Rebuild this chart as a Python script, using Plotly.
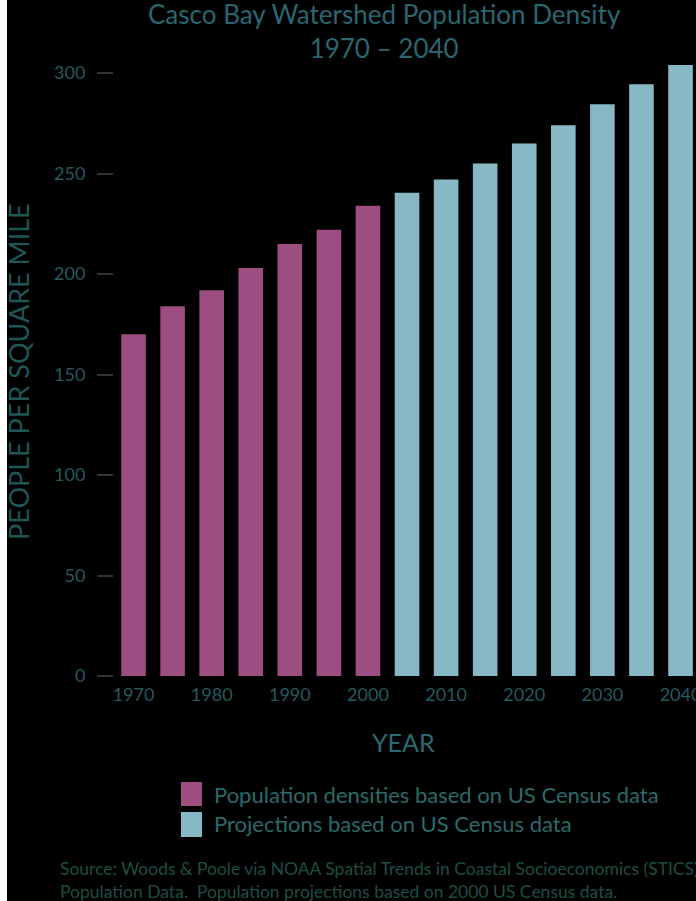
import plotly.graph_objects as go

years_census = [1970, 1975, 1980, 1985, 1990, 1995, 2000]
density_census = [170, 184, 192, 203, 215, 222, 234]
years_proj = [2005, 2010, 2015, 2020, 2025, 2030, 2035, 2040]
density_proj = [240.5, 247, 255, 265, 274, 284.5, 294.5, 304]
x_tick_vals = [1970, 1980, 1990, 2000, 2010, 2020, 2030, 2040]
y_tick_vals = [0, 50, 100, 150, 200, 250, 300]
legend_labels = ["Population densities based on US Census data",
                 "Projections based on US Census data"]

PINK = "#9b4e7f"
BLUE = "#87b8c5"
FONT = "Lato"

fig = go.Figure()
fig.add_trace(go.Bar(x=years_census, y=density_census, width=3.15,
                     marker=dict(color=PINK, line=dict(width=0)),
                     name=legend_labels[0], showlegend=False))
fig.add_trace(go.Bar(x=years_proj, y=density_proj, width=3.15,
                     marker=dict(color=BLUE, line=dict(width=0)),
                     name=legend_labels[1], showlegend=False))

L, T, B = 114, 53, 225
PH = 901 - T - B
PW = 696 - L

fig.update_layout(
    width=696, height=901,
    margin=dict(l=L, r=0, t=T, b=B, autoexpand=False),
    paper_bgcolor="black", plot_bgcolor="black",
    font=dict(family=FONT, color="#24595e"),
    xaxis=dict(range=[1967.5, 2041.98], tickvals=x_tick_vals,
               showgrid=False, zeroline=False, showline=False, ticks="",
               tickfont=dict(size=18, color="#24595e"),
               ticklabelstandoff=6, automargin=False,
               ticklabeloverflow="allow"),
    yaxis=dict(range=[0, 310], tickvals=y_tick_vals,
               showgrid=False, zeroline=False, showline=False,
               ticks="outside", ticklen=16, tickwidth=2, tickcolor="#333333",
               tickfont=dict(size=18, color="#24595e"),
               ticklabelstandoff=8, automargin=False),
    bargap=0.37,
)

TITLE_COLOR = "#2a6670"
annotations = [
    dict(text="Casco Bay Watershed Population Density<br>1970 – 2040",
         xref="paper", yref="paper", align="center",
         x=0.464, y=1, yshift=22, xanchor="center", yanchor="middle", showarrow=False,
         font=dict(size=26, color=TITLE_COLOR, family=FONT)),
    dict(text="YEAR", xref="paper", yref="paper", x=0.497, y=0, yshift=-66,
         xanchor="center", yanchor="middle", showarrow=False,
         font=dict(size=25, color="#2a6a72", family=FONT)),
    dict(text="PEOPLE PER SQUARE MILE", xref="paper", yref="paper",
         x=0, xshift=-95, y=0.488, yanchor="middle", xanchor="center",
         textangle=-90, showarrow=False,
         font=dict(size=27, color="#1f5656", family=FONT)),
    dict(text=legend_labels[0], xref="paper", yref="paper", x=0, xshift=212 - L,
         y=0, yshift=-118, xanchor="left", yanchor="middle", showarrow=False,
         font=dict(size=22, color="#2a6a6a", family=FONT)),
    dict(text=legend_labels[1], xref="paper", yref="paper", x=0, xshift=212 - L,
         y=0, yshift=-147, xanchor="left", yanchor="middle", showarrow=False,
         font=dict(size=22, color="#2a6a6a", family=FONT)),
    dict(text="Source: Woods &amp; Poole via NOAA Spatial Trends in Coastal Socioeconomics (STICS)<br>"
              "Population Data.  Population projections based on 2000 US Census data.",
         xref="paper", yref="paper", x=0, xshift=58 - L, y=0, yshift=-204,
         xanchor="left", yanchor="middle", align="left", showarrow=False,
         font=dict(size=17.5, color="#1d4d44", family=FONT)),
]
fig.update_layout(annotations=annotations)

def px_x(p):
    return (p - L) / PW

def px_y(p):
    return (901 - B - p) / PH

shapes = [
    dict(type="rect", xref="paper", yref="paper",
         x0=px_x(181), x1=px_x(202), y0=px_y(806), y1=px_y(782),
         fillcolor=PINK, line=dict(width=0)),
    dict(type="rect", xref="paper", yref="paper",
         x0=px_x(181), x1=px_x(202), y0=px_y(837), y1=px_y(812),
         fillcolor=BLUE, line=dict(width=0)),
    dict(type="rect", xref="paper", yref="paper",
         x0=px_x(-5), x1=px_x(7), y0=px_y(910), y1=px_y(-10),
         fillcolor="white", line=dict(width=0), layer="above"),
]
fig.update_layout(shapes=shapes)

fig.write_html("out.html", config={"displayModeBar": False},
               post_script="document.body.style.margin='0px';")
